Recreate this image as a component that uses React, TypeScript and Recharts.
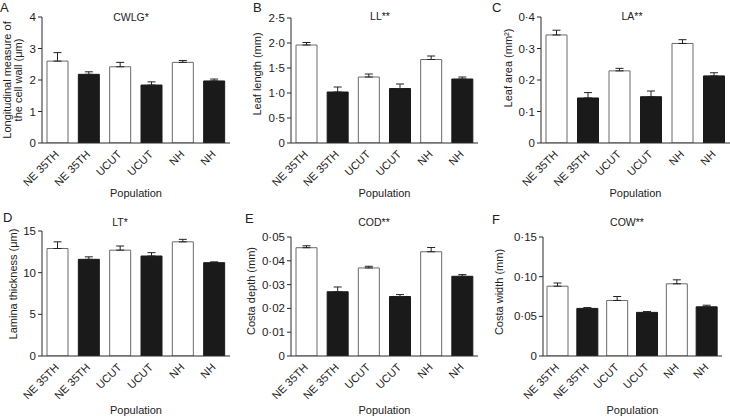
import React from 'react';
import { BarChart, Bar, XAxis, YAxis, ErrorBar, Cell, Label } from 'recharts';

// ---- data ----
const categories = ['NE 35TH', 'NE 35TH', 'UCUT', 'UCUT', 'NH', 'NH'];
const groups = ['open', 'filled', 'open', 'filled', 'open', 'filled'];

const cwlgMeans = [2.6, 2.18, 2.42, 1.84, 2.56, 1.97];
const cwlgErrors = [0.27, 0.08, 0.14, 0.1, 0.06, 0.06];
const cwlgTicks = [0, 1, 2, 3, 4];
const cwlgTickLabels = ['0', '1', '2', '3', '4'];

const llMeans = [1.96, 1.02, 1.32, 1.09, 1.67, 1.28];
const llErrors = [0.05, 0.1, 0.06, 0.09, 0.07, 0.04];
const llTicks = [0, 0.5, 1, 1.5, 2, 2.5];
const llTickLabels = ['0', '0·5', '1·0', '1·5', '2·0', '2·5'];

const laMeans = [0.343, 0.143, 0.229, 0.147, 0.316, 0.213];
const laErrors = [0.015, 0.017, 0.008, 0.018, 0.012, 0.01];
const laTicks = [0, 0.1, 0.2, 0.3, 0.4];
const laTickLabels = ['0', '0·1', '0·2', '0·3', '0·4'];

const ltMeans = [12.9, 11.6, 12.7, 12.0, 13.7, 11.2];
const ltErrors = [0.8, 0.3, 0.5, 0.4, 0.3, 0.1];
const ltTicks = [0, 5, 10, 15];
const ltTickLabels = ['0', '5', '10', '15'];

const codMeans = [0.0455, 0.027, 0.037, 0.025, 0.0438, 0.0335];
const codErrors = [0.0008, 0.002, 0.0007, 0.0008, 0.0018, 0.0007];
const codTicks = [0, 0.01, 0.02, 0.03, 0.04, 0.05];
const codTickLabels = ['0', '0·01', '0·02', '0·03', '0·04', '0·05'];

const cowMeans = [0.088, 0.06, 0.07, 0.055, 0.091, 0.062];
const cowErrors = [0.004, 0.001, 0.005, 0.001, 0.005, 0.002];
const cowTicks = [0, 0.05, 0.1, 0.15];
const cowTickLabels = ['0', '0·05', '0·10', '0·15'];

const xTitle = 'Population';

// ---- layout ----
const panels = [
  { letter: 'A', title: 'CWLG*', means: cwlgMeans, errors: cwlgErrors, ticks: cwlgTicks, tickLabels: cwlgTickLabels,
    ytitle: ['Longitudinal measure of', 'the cell wall (μm)'],
    left: 0, top: 0, width: 240, height: 205, yw: 42, mt: 17, mr: 10, xh: 54, mb: 8,
    letterX: 0, letterY: 12, titleX: 131, titleY: 21, ytX: 11, ytY: 80 },
  { letter: 'B', title: 'LL**', means: llMeans, errors: llErrors, ticks: llTicks, tickLabels: llTickLabels,
    ytitle: ['Leaf length (mm)'],
    left: 240, top: 0, width: 240, height: 205, yw: 51, mt: 18, mr: 2, xh: 54, mb: 8,
    letterX: 253, letterY: 12, titleX: 380, titleY: 20, ytX: 261, ytY: 74 },
  { letter: 'C', title: 'LA**', means: laMeans, errors: laErrors, ticks: laTicks, tickLabels: laTickLabels,
    ytitle: ['Leaf area (mm²)'],
    left: 485, top: 0, width: 245, height: 205, yw: 56, mt: 17, mr: 0, xh: 54, mb: 8,
    letterX: 492, letterY: 12, titleX: 632, titleY: 20, ytX: 512, ytY: 68 },
  { letter: 'D', title: 'LT*', means: ltMeans, errors: ltErrors, ticks: ltTicks, tickLabels: ltTickLabels,
    ytitle: ['Lamina thickness (μm)'],
    left: 0, top: 205, width: 240, height: 212, yw: 42, mt: 26, mr: 10, xh: 58, mb: 3,
    letterX: 3, letterY: 222, titleX: 120, titleY: 226, ytX: 17, ytY: 284 },
  { letter: 'E', title: 'COD**', means: codMeans, errors: codErrors, ticks: codTicks, tickLabels: codTickLabels,
    ytitle: ['Costa depth (mm)'],
    left: 240, top: 205, width: 240, height: 212, yw: 51, mt: 32, mr: 2, xh: 58, mb: 3,
    letterX: 245, letterY: 223, titleX: 374, titleY: 226, ytX: 255, ytY: 291 },
  { letter: 'F', title: 'COW**', means: cowMeans, errors: cowErrors, ticks: cowTicks, tickLabels: cowTickLabels,
    ytitle: ['Costa width (mm)'],
    left: 485, top: 205, width: 245, height: 212, yw: 58, mt: 32, mr: 8, xh: 58, mb: 3,
    letterX: 492, letterY: 224, titleX: 627, titleY: 226, ytX: 503, ytY: 292 },
];

const AXIS = '#2a2a2a';
const FONT = '"Liberation Sans", Arial, Helvetica, sans-serif';

function RotTick(props: any) {
  const { x, y, payload } = props;
  return (
    <g transform={`translate(${x + 2},${y + 12})`}>
      <g transform="rotate(-45)">
        <text x={0} y={0} textAnchor="end" fontSize={11} fill="#222" fontFamily={FONT}>
          {payload.value}
        </text>
      </g>
    </g>
  );
}

function Panel({ cfg }: { cfg: any }) {
  const data = categories.map((name, i) => ({
    name,
    mean: cfg.means[i],
    err: [0, cfg.errors[i]],
    group: groups[i],
  }));
  const top = cfg.ticks[cfg.ticks.length - 1];
  return (
    <div style={{ position: 'absolute', left: cfg.left, top: cfg.top, width: cfg.width, height: cfg.height }}>
      <BarChart
        width={cfg.width}
        height={cfg.height}
        data={data}
        margin={{ top: cfg.mt, right: cfg.mr, bottom: cfg.mb, left: 0 }}
        barSize={21}
      >
        <XAxis
          dataKey="name"
          interval={0}
          tickLine={false}
          tickSize={0}
          tickMargin={0}
          axisLine={{ stroke: AXIS, strokeWidth: 1 }}
          height={cfg.xh}
          tick={(p: any) => <RotTick {...p} />}
        >
          <Label value={xTitle} position="insideBottom" offset={0} style={{ fontSize: 11, fill: '#222', fontFamily: FONT }} />
        </XAxis>
        <YAxis
          width={cfg.yw}
          type="number"
          domain={[0, top]}
          ticks={cfg.ticks}
          interval={0}
          tickFormatter={(v: number, i: number) => cfg.tickLabels[i]}
          tickSize={4}
          tickMargin={2}
          tick={{ fontSize: 11.5, fill: '#222', fontFamily: FONT }}
          axisLine={{ stroke: AXIS, strokeWidth: 1 }}
          tickLine={{ stroke: AXIS, strokeWidth: 1 }}
          allowDataOverflow
        />
        <Bar dataKey="mean" isAnimationActive={false}>
          {data.map((d, i) => (
            <Cell
              key={i}
              fill={d.group === 'open' ? '#ffffff' : '#1a1a1a'}
              stroke={d.group === 'open' ? '#6a6a6a' : '#1a1a1a'}
              strokeWidth={1}
            />
          ))}
          <ErrorBar dataKey="err" direction="y" width={4} stroke="#222" strokeWidth={1} isAnimationActive={false} />
        </Bar>
      </BarChart>
    </div>
  );
}

export default function App() {
  return (
    <div style={{ position: 'absolute', left: 0, top: 0, width: 730, height: 417, background: '#fff', fontFamily: FONT }}>
      {panels.map((p) => (
        <Panel key={p.letter} cfg={p} />
      ))}
      <svg width={730} height={417} style={{ position: 'absolute', left: 0, top: 0, pointerEvents: 'none' }}>
        {panels.map((p) => (
          <g key={p.letter} fontFamily={FONT} fill="#222">
            <text x={p.letterX} y={p.letterY} fontSize={13}>{p.letter}</text>
            <text x={p.titleX} y={p.titleY} fontSize={10.5} textAnchor="middle">{p.title}</text>
            <text
              x={p.ytX}
              y={p.ytY}
              fontSize={11}
              textAnchor="middle"
              transform={`rotate(-90 ${p.ytX} ${p.ytY})`}
            >
              {p.ytitle.map((line: string, i: number) => (
                <tspan key={i} x={p.ytX} dy={i === 0 ? 0 : 11}>{line}</tspan>
              ))}
            </text>
          </g>
        ))}
      </svg>
    </div>
  );
}
